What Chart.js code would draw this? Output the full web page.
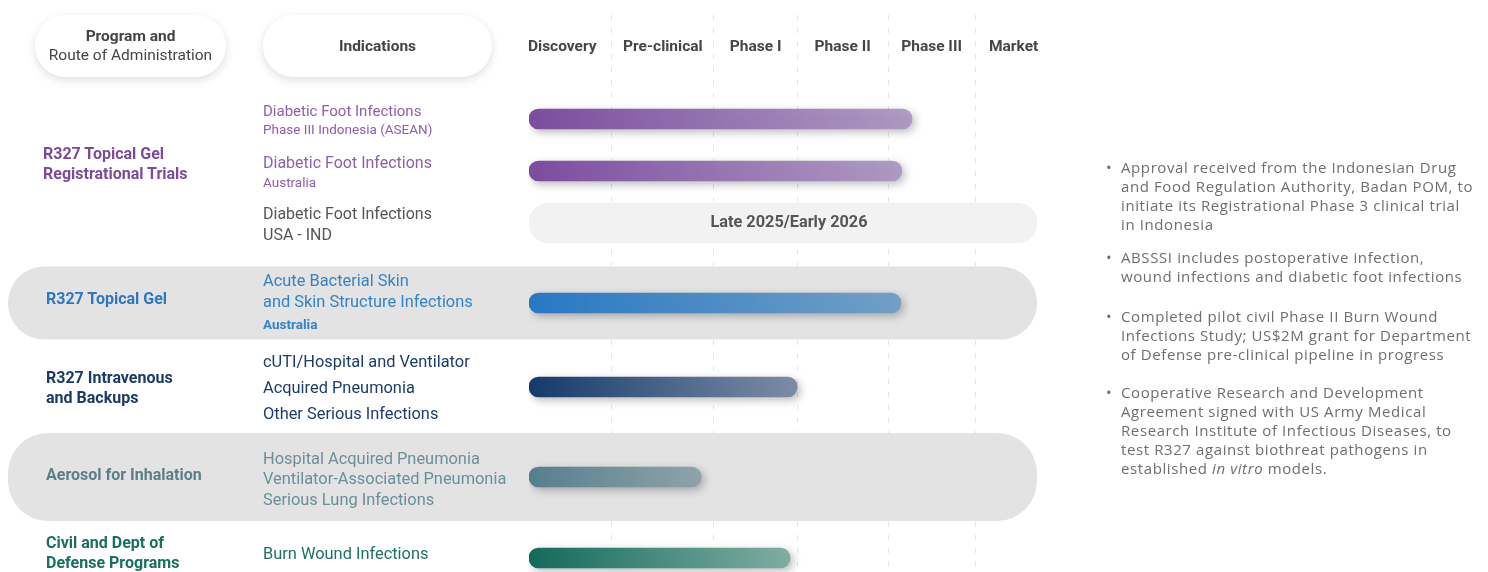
<!DOCTYPE html>
<html>
<head>
<meta charset="utf-8">
<script src="https://cdn.jsdelivr.net/npm/chart.js@4.4.0/dist/chart.umd.min.js"></script>
<style>
html, body { margin: 0; padding: 0; background: #fff; }
#wrap { position: relative; width: 1488px; height: 572px; overflow: hidden; font-family: Roboto, sans-serif; }
#wrap canvas { position: absolute; left: 0; top: 0; }
.t { position: absolute; white-space: nowrap; transform: translateY(-50%); line-height: 20px; }
.prog { font-weight: 700; font-size: 16px; }
.pill { position: absolute; top: 15px; height: 62px; background: #fff; border-radius: 31px;
        box-shadow: 0 3px 10px rgba(0,0,0,0.13); display: flex; flex-direction: column;
        align-items: center; justify-content: center; color: #444; font-size: 15.5px; line-height: 19px; }
.note { position: absolute; left: 1106px; font-family: 'Open Sans', sans-serif; font-size: 15px; font-weight: 400;
        letter-spacing: 0.6px; line-height: 19px; color: #6e6e6e; white-space: nowrap; }
.note .dot { position: absolute; left: 0; top: 0; letter-spacing: 0; }
.note .txt { position: absolute; left: 15px; top: 0; }
</style>
</head>
<body>
<div id="wrap">
  <canvas id="pipe" width="1488" height="572"></canvas>
  <div class="pill" style="left:35px;width:191px;"><b>Program and</b><span>Route of Administration</span></div>
  <div class="pill" style="left:263px;width:229px;"><b>Indications</b></div>
</div>
<script>
// pipeline stages and where each column ends (axis units, 0-100 = track width)
const stages = ['Discovery', 'Pre-clinical', 'Phase I', 'Phase II', 'Phase III', 'Market'];
const stageEdges = [-3.2, 16.3, 36.4, 52.8, 70.7, 87.8, 103];

const programs = ['R327 Topical Gel\nRegistrational Trials', 'R327 Topical Gel', 'R327 Intravenous\nand Backups',
                  'Aerosol for Inhalation', 'Civil and Dept of\nDefense Programs'];

const indications = [
  ['Diabetic Foot Infections', 'Phase III Indonesia (ASEAN)'],
  ['Diabetic Foot Infections', 'Australia'],
  ['Diabetic Foot Infections', 'USA - IND'],
  ['Acute Bacterial Skin', 'and Skin Structure Infections', 'Australia'],
  ['cUTI/Hospital and Ventilator', 'Acquired Pneumonia', 'Other Serious Infections'],
  ['Hospital Acquired Pneumonia', 'Ventilator-Associated Pneumonia', 'Serious Lung Infections'],
  ['Burn Wound Infections']
];

// how far along the track each indication has progressed
const progress = [75.4, 73.4, null, 73.2, 52.8, 33.9, 51.4];
const pendingRow = 2;
const pendingLabel = 'Late 2025/Early 2026';

const notes = [
  ['Approval received from the Indonesian Drug', 'and Food Regulation Authority, Badan POM, to',
   'initiate its Registrational Phase 3 clinical trial', 'in Indonesia'],
  ['ABSSSI includes postoperative infection,', 'wound infections and diabetic foot infections'],
  ['Completed pilot civil Phase II Burn Wound', 'Infections Study; US$2M grant for Department',
   'of Defense pre-clinical pipeline in progress'],
  ['Cooperative Research and Development', 'Agreement signed with US Army Medical',
   'Research Institute of Infectious Diseases, to', 'test R327 against biothreat pathogens in',
   'established <i>in vitro</i> models.']
];

// ---- layout / styling ----
const headerUnits = 78;
const rowHeights = [52, 52, 52, 108, 60, 120, 42];
const rowCenters = [];
let acc = headerUnits;
rowHeights.forEach(h => { rowCenters.push(acc + h / 2); acc += h; });

const barColors = [
  ['#7c4c9f', 'rgba(170,148,192,0.9)'],
  ['#7c4c9f', 'rgba(170,148,192,0.9)'],
  null,
  ['#2878c3', 'rgba(110,158,198,0.95)'],
  ['#143a6b', 'rgba(120,137,162,0.95)'],
  ['#557f8d', 'rgba(140,162,168,0.95)'],
  ['#126a5b', 'rgba(122,172,158,0.95)']
];
const bands = { 3: { h: 73, r: 36 }, 5: { h: 88, r: 40 } };

const rowText = [
  { color: '#8d5fab', sizes: [15, 13.5], ys: [111, 129] },
  { color: '#8d5fab', sizes: [16, 13.5], ys: [163, 182] },
  { color: '#555555', sizes: [16, 16], ys: [214, 235] },
  { color: '#3583c4', sizes: [16.4, 16.4, 13.5], ys: [281, 302, 324], bold: [false, false, true] },
  { color: '#1c3d6b', sizes: [16.4, 16.4, 16.4], ys: [362, 388, 414] },
  { color: '#6a8f99', sizes: [16.4, 16.4, 16.4], ys: [459, 479, 500] },
  { color: '#1a7260', sizes: [16.4], ys: [554] }
];
const progText = [
  { color: '#7b4a9b', x: 43, y: 164 },
  { color: '#2b78bf', x: 46, y: 299 },
  { color: '#1a3b68', x: 46, y: 388 },
  { color: '#5b7f89', x: 46, y: 475 },
  { color: '#17705f', x: 46, y: 553 }
];

const wrap = document.getElementById('wrap');
function addText(html, x, y, style, cls) {
  const d = document.createElement('div');
  d.className = 't' + (cls ? ' ' + cls : '');
  d.style.left = x + 'px';
  d.style.top = y + 'px';
  Object.assign(d.style, style || {});
  d.innerHTML = html;
  wrap.appendChild(d);
}
programs.forEach((p, i) => {
  addText(p.replace('\n', '<br>'), progText[i].x, progText[i].y, { color: progText[i].color }, 'prog');
});
indications.forEach((lines, r) => {
  const st = rowText[r];
  lines.forEach((l, k) => {
    addText(l, 263, st.ys[k], {
      color: st.color, fontSize: st.sizes[k] + 'px',
      fontWeight: st.bold && st.bold[k] ? '700' : '400'
    });
  });
});
const noteTops = [158, 248, 307, 383];
notes.forEach((lines, i) => {
  const d = document.createElement('div');
  d.className = 'note';
  d.style.top = noteTops[i] + 'px';
  d.innerHTML = '<span class="dot">•</span><span class="txt">' + lines.join('<br>') + '</span>';
  wrap.appendChild(d);
});

// ---- chart ----
const progressData = [];
progress.forEach((v, i) => { if (v !== null) progressData.push({ x: [0, v], y: rowCenters[i], row: i }); });

function barGradient(ctx) {
  const chart = ctx.chart;
  if (!chart.chartArea || !ctx.raw) return '#888';
  const xs = chart.scales.x;
  const x0 = xs.getPixelForValue(ctx.raw.x[0]);
  const x1 = xs.getPixelForValue(ctx.raw.x[1]);
  const c = barColors[ctx.raw.row];
  const g = chart.ctx.createLinearGradient(x0, 0, x1, 0);
  g.addColorStop(0, c[0]);
  g.addColorStop(1, c[1]);
  return g;
}

const bandPlugin = {
  id: 'bands',
  beforeDraw(chart) {
    const { ctx, scales: { x, y } } = chart;
    ctx.save();
    ctx.fillStyle = '#e3e3e3';
    Object.keys(bands).forEach(k => {
      const b = bands[k];
      const cy = y.getPixelForValue(rowCenters[k]);
      const x1 = x.getPixelForValue(100);
      ctx.beginPath();
      ctx.roundRect(8, cy - b.h / 2, x1 - 8, b.h, b.r);
      ctx.fill();
    });
    ctx.restore();
  }
};

const shadowPlugin = {
  id: 'barShadow',
  beforeDatasetDraw(chart, args) {
    if (args.index !== 0) return;
    const ctx = chart.ctx;
    ctx.save();
    ctx.shadowColor = 'rgba(0,0,0,0.28)';
    ctx.shadowBlur = 8;
    ctx.shadowOffsetX = 3;
    ctx.shadowOffsetY = 3;
  },
  afterDatasetDraw(chart, args) {
    if (args.index === 0) chart.ctx.restore();
  }
};

const labelPlugin = {
  id: 'stageLabels',
  afterDatasetsDraw(chart) {
    const { ctx, scales: { x, y } } = chart;
    ctx.save();
    ctx.font = 'bold 15.5px Roboto, sans-serif';
    ctx.fillStyle = '#454545';
    ctx.textAlign = 'center';
    ctx.textBaseline = 'middle';
    stages.forEach((s, i) => {
      const mid = (stageEdges[i] + stageEdges[i + 1]) / 2;
      ctx.fillText(s, x.getPixelForValue(mid), 47);
    });
    ctx.font = 'bold 16.3px Roboto, sans-serif';
    ctx.fillStyle = '#555';
    ctx.fillText(pendingLabel, (x.getPixelForValue(0) + x.getPixelForValue(100)) / 2 + 6,
                 y.getPixelForValue(rowCenters[pendingRow]));
    ctx.restore();
  }
};

new Chart(document.getElementById('pipe'), {
  type: 'bar',
  data: {
    datasets: [{
      label: 'Progress',
      data: progressData,
      backgroundColor: barGradient,
      barThickness: 20,
      borderRadius: 10,
      borderSkipped: false,
      grouped: false
    }, {
      label: 'Pending',
      data: [{ x: [0, 100], y: rowCenters[pendingRow] }],
      backgroundColor: '#f2f2f2',
      barThickness: 40,
      borderRadius: 20,
      borderSkipped: false,
      grouped: false
    }]
  },
  options: {
    indexAxis: 'y',
    responsive: false,
    animation: false,
    devicePixelRatio: 1,
    layout: { padding: { left: 529, right: 451, top: 15, bottom: 0 } },
    plugins: { legend: { display: false }, tooltip: { enabled: false } },
    scales: {
      x: {
        type: 'linear', min: 0, max: 100,
        ticks: { display: false },
        grid: { color: '#e4e4e4', lineWidth: 1, drawTicks: false },
        border: { display: false, dash: [5, 8] },
        afterBuildTicks(scale) {
          scale.ticks = stageEdges.slice(1, -1).map(v => ({ value: v }));
        },
        afterFit(scale) { scale.height = 0; }
      },
      y: {
        type: 'linear', min: 0, max: 557, reverse: true, display: false,
        offset: false, grid: { offset: false }
      }
    }
  },
  plugins: [bandPlugin, shadowPlugin, labelPlugin]
});
</script>
</body>
</html>
